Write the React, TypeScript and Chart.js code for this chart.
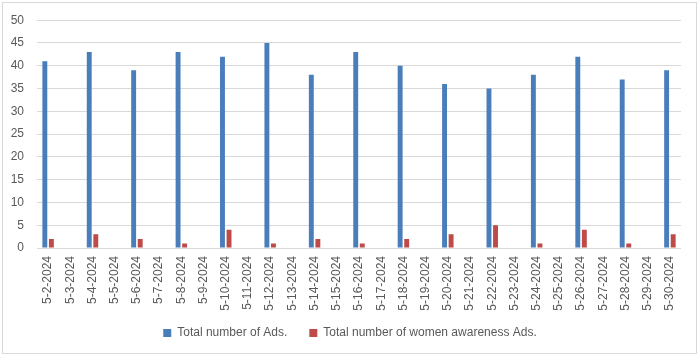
import { useEffect, useRef } from "react";
import { Chart, registerables } from "chart.js";

Chart.register(...registerables);

const categories = [
  "5-2-2024", "5-3-2024", "5-4-2024", "5-5-2024", "5-6-2024", "5-7-2024", "5-8-2024", "5-9-2024",
  "5-10-2024", "5-11-2024", "5-12-2024", "5-13-2024", "5-14-2024", "5-15-2024", "5-16-2024",
  "5-17-2024", "5-18-2024", "5-19-2024", "5-20-2024", "5-21-2024", "5-22-2024", "5-23-2024",
  "5-24-2024", "5-25-2024", "5-26-2024", "5-27-2024", "5-28-2024", "5-29-2024", "5-30-2024",
];

const totalAds = [
  41, null, 43, null, 39, null, 43, null, 42, null, 45, null, 38, null, 43,
  null, 40, null, 36, null, 35, null, 38, null, 42, null, 37, null, 39,
];

const womenAwarenessAds = [
  2, null, 3, null, 2, null, 1, null, 4, null, 1, null, 2, null, 1,
  null, 2, null, 3, null, 5, null, 1, null, 4, null, 1, null, 3,
];

const seriesNames = ["Total number of Ads.", "Total number of women awareness Ads."];

const yMin = 0;
const yMax = 50;
const yStep = 5;

const FONT = { family: "'Liberation Sans', Arial, sans-serif", size: 12 };
const TEXT = "#595959";

const legendShift = {
  id: "legendShift",
  afterLayout(chart: any) {
    const lg = chart.legend;
    if (lg) {
      lg.top -= 7;
      lg.bottom -= 7;
    }
  },
};

export default function App() {
  const ref = useRef<HTMLCanvasElement>(null);

  useEffect(() => {
    document.body.style.margin = "0";
    const chart = new Chart(ref.current!, {
      type: "bar",
      data: {
        labels: categories,
        datasets: [
          {
            label: seriesNames[0],
            data: totalAds,
            backgroundColor: "#4a7ebb",
            borderWidth: 0,
            categoryPercentage: 0.59,
            barPercentage: 0.75,
          },
          {
            label: seriesNames[1],
            data: womenAwarenessAds,
            backgroundColor: "#be4b48",
            borderWidth: 0,
            categoryPercentage: 0.59,
            barPercentage: 0.75,
          },
        ],
      },
      plugins: [legendShift],
      options: {
        animation: false,
        responsive: false,
        maintainAspectRatio: false,
        layout: { padding: { left: 0, right: 0, top: 17, bottom: 0 } },
        scales: {
          x: {
            grid: { display: false, drawTicks: false },
            border: { display: false },
            ticks: {
              autoSkip: false,
              minRotation: 90,
              maxRotation: 90,
              padding: 8,
              font: FONT,
              color: TEXT,
            },
            afterFit: (s: any) => {
              s.height = 64;
            },
          },
          y: {
            min: yMin,
            max: yMax,
            ticks: { stepSize: yStep, padding: 13, font: FONT, color: TEXT },
            grid: { color: "#d9d9d9", drawTicks: false },
            border: { display: false },
            afterFit: (s: any) => {
              s.width = 37;
            },
          },
          yRightSpace: {
            position: "right",
            display: true,
            grid: { display: false, drawTicks: false },
            ticks: { display: false },
            border: { display: false },
            afterFit: (s: any) => {
              s.width = 19;
            },
          },
        },
        plugins: {
          legend: {
            position: "bottom",
            labels: {
              boxWidth: 8,
              boxHeight: 8,
              padding: 22,
              font: FONT,
              color: TEXT,
            },
          },
          tooltip: { enabled: false },
        },
      },
    });
    return () => chart.destroy();
  }, []);

  return (
    <div style={{ position: "relative", width: 700, height: 356, background: "#fff" }}>
      <div
        style={{
          position: "absolute",
          left: 2,
          top: 2,
          width: 695,
          height: 352,
          border: "1px solid #d9d9d9",
          boxSizing: "border-box",
        }}
      />
      <canvas ref={ref} width={700} height={356} style={{ position: "absolute", left: 0, top: 0 }} />
    </div>
  );
}
